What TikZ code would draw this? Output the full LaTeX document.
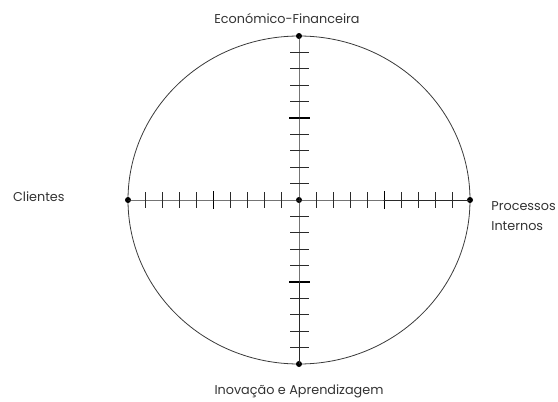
\documentclass[tikz,border=0pt]{standalone}
\usepackage{fontspec}
\setmainfont{Poppins}
\usetikzlibrary{positioning}

\begin{document}
\begin{tikzpicture}[
    x=1pt, y=-1pt,
    % Estilos
    polo/.style={
        circle, fill=black, inner sep=0pt, minimum size=6pt
    },
    eixo/.style={
        line width=0.9pt, color=axisgray
    },
    marca/.style={
        line width=0.9pt, color=axisgray
    },
    marca forte/.style={
        line width=1.3pt, color=black
    },
    rotulo/.style={
        font=\fontsize{12.8}{20}\selectfont, text=labelgray, align=left, inner sep=0pt
    }
]

% ── Definir colores ──
\definecolor{axisgray}{HTML}{2A2A2A}
\definecolor{rimgray}{HTML}{3A3A3A}
\definecolor{labelgray}{HTML}{333333}

\useasboundingbox (0,0) rectangle (558,402);

% ════════════════════════════════════════
% CONTORNO
% ════════════════════════════════════════
\draw[rimgray, line width=0.8pt] (299,200) ellipse [x radius=171, y radius=164];

% ════════════════════════════════════════
% MARCAS dos eixos
% ════════════════════════════════════════
\foreach \k in {1,...,9,11,12,...,19} {
    \ifnum\k=5
        \draw[marca forte] (128+17.1*\k,191) -- (128+17.1*\k,209);
    \else\ifnum\k=15
        \draw[marca forte] (128+17.1*\k,191) -- (128+17.1*\k,209);
    \else
        \draw[marca] (128+17.1*\k,192) -- (128+17.1*\k,208);
    \fi\fi
}
\foreach \k in {1,...,9,11,12,...,19} {
    \ifnum\k=5
        \draw[marca forte] (289,36+16.4*\k) -- (310,36+16.4*\k);
    \else\ifnum\k=15
        \draw[marca forte] (289,36+16.4*\k) -- (310,36+16.4*\k);
    \else
        \draw[marca] (290,36+16.4*\k) -- (309,36+16.4*\k);
    \fi\fi
}

% ════════════════════════════════════════
% POLOS
% ════════════════════════════════════════
\node[polo] (norte)  at (299,36)  {};
\node[polo] (sul)    at (299,364) {};
\node[polo] (oeste)  at (128,200) {};
\node[polo] (leste)  at (470,200) {};
\node[polo] (centro) at (299,200) {};

% ════════════════════════════════════════
% EIXOS
% ════════════════════════════════════════
\draw[eixo] (oeste.center) -- (centro.center) -- (leste.center);
\draw[eixo] (norte.center) -- (centro.center) -- (sul.center);

% ════════════════════════════════════════
% ETIQUETAS das perspectivas
% ════════════════════════════════════════
\node[rotulo, above=9pt of norte, xshift=-12pt] (financeira) {Económico-Financeira};
\node[rotulo, left=60pt of oeste, yshift=3pt]   (clientes)   {Clientes};
\node[rotulo, right=18pt of leste, yshift=-16pt] (processos) {Processos\\Internos};
\node[rotulo, below=17pt of sul]                 (inovacao)  {Inovação e Aprendizagem};

\end{tikzpicture}
\end{document}
